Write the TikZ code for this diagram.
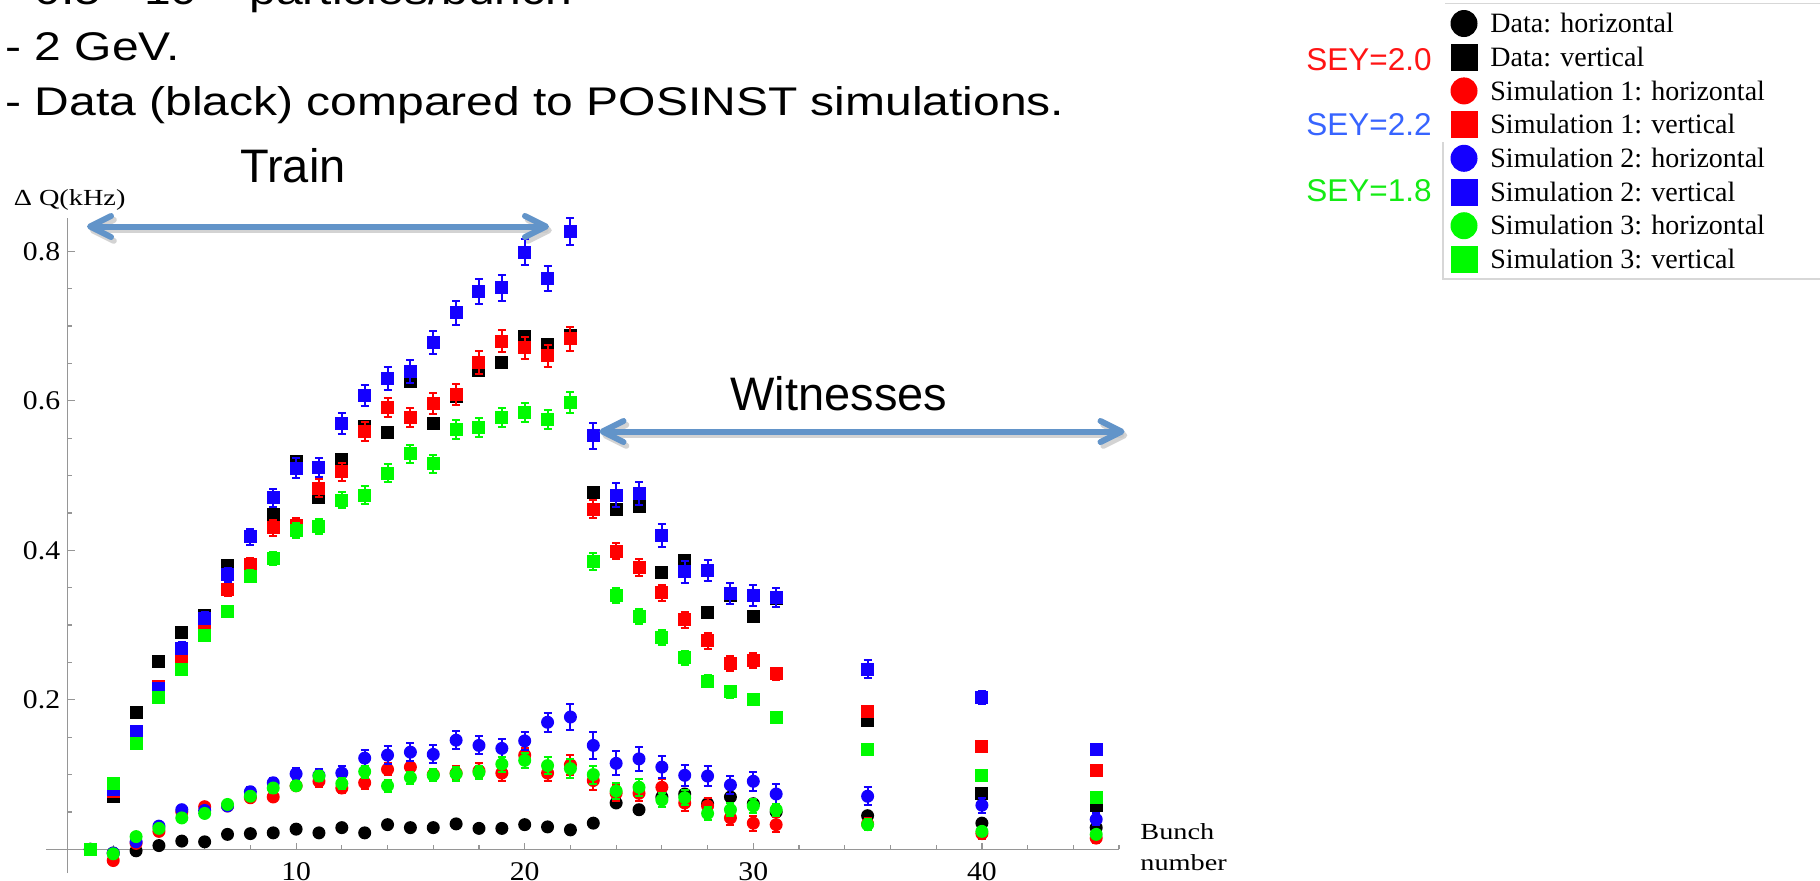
\documentclass[tikz,border=0pt]{standalone}
\usepackage{fontspec}
\usepackage{graphicx}
\setmainfont{Liberation Serif}
\newfontfamily\arial{Liberation Sans}
\usetikzlibrary{arrows.meta}

\definecolor{dred}{RGB}{255,0,0}
\definecolor{dblue}{RGB}{20,0,255}
\definecolor{dgreen}{RGB}{0,250,0}
\definecolor{seyred}{RGB}{255,20,20}
\definecolor{seyblue}{RGB}{55,100,255}
\definecolor{seygreen}{RGB}{20,235,20}
\definecolor{arrowblue}{RGB}{98,148,201}
\definecolor{shadowgray}{RGB}{200,200,200}
\definecolor{axisgray}{RGB}{150,150,150}
\definecolor{framegray}{RGB}{215,215,215}

% one data series: colour, c = circles / s = squares, list of n/value/error
\newcommand\plotseries[3]{%
  \foreach \n/\v/\e in {#3}{%
    \ifdim \e pt>0pt
      \draw[#1, line width=1pt] (\n,{\v-\e}) -- (\n,{\v+\e});
      \draw[#1, line width=1pt] (\n,{\v+\e}) ++(-2pt,0pt) -- ++(4pt,0pt);
      \draw[#1, line width=1pt] (\n,{\v-\e}) ++(-2pt,0pt) -- ++(4pt,0pt);
    \fi
    \if#2c\fill[#1] (\n,\v) circle[radius=3.25pt];
    \else\fill[#1] (\n,\v) ++(-3.25pt,-3.25pt) rectangle ++(6.5pt,6.5pt);\fi
  }}

\tikzset{
  heading/.style={anchor=base west, inner sep=0pt, font=\arial\fontsize{20pt}{24pt}\selectfont},
  bigtag/.style={anchor=base, inner sep=0pt, font=\arial\fontsize{23.5pt}{28pt}\selectfont},
  seytag/.style={anchor=base west, inner sep=0pt, font=\arial\fontsize{15.75pt}{18pt}\selectfont},
  legtext/.style={anchor=base west, inner sep=0pt, font=\fontsize{14pt}{16pt}\selectfont},
  axtext/.style={inner sep=0pt, font=\fontsize{11.5pt}{13pt}\selectfont},
  ticktext/.style={inner sep=0pt, font=\fontsize{13.5pt}{15pt}\selectfont},
  span/.style={arrowblue, line width=3pt, line cap=round,
    {Straight Barb[length=10.5pt,width=10.5pt,round]}-{Straight Barb[length=10.5pt,width=10.5pt,round]}},
  spanshadow/.style={span, shadowgray, opacity=0.8},
}

\begin{document}
\begin{tikzpicture}[x=0.5pt,y=-0.5pt]
\useasboundingbox (0,0) rectangle (1820,880);

% heading text (the first line runs off the top edge)
\node[heading] (line1) at (5,4.5) {\scalebox{1.2}[1]{- 0.5 · 10\textsuperscript{10} particles/bunch}};
\node[heading] (line2) at (5,60) {\scalebox{1.2}[1]{- 2 GeV.}};
\node[heading] (line3) at (5,115.5) {\scalebox{1.2}[1]{- Data (black) compared to POSINST simulations.}};

% legend frame
\draw[framegray, line width=0.6pt] (1445,3.5) -- (1820,3.5);
\draw[framegray, line width=0.6pt] (1443,142) -- (1443,279) -- (1820,279);

% legend entries
\foreach \i/\c/\s/\t in {0/black/c/{Data: horizontal}, 1/black/s/{Data: vertical},
    2/dred/c/{Simulation 1: horizontal}, 3/dred/s/{Simulation 1: vertical},
    4/dblue/c/{Simulation 2: horizontal}, 5/dblue/s/{Simulation 2: vertical},
    6/dgreen/c/{Simulation 3: horizontal}, 7/dgreen/s/{Simulation 3: vertical}}{
  \pgfmathsetmacro\yy{23.5+33.7*\i}
  \if\s c\fill[\c] (1464,\yy) circle[radius=6.75pt];
  \else\fill[\c] (1464,\yy) ++(-6.75pt,-6.75pt) rectangle ++(13.5pt,13.5pt);\fi
  \node[legtext] (leg\i) at (1490,\yy+9.2) {\t};
}

% SEY labels
\node[seytag, text=seyred] (sey1) at (1306,70.7) {SEY=2.0};
\node[seytag, text=seyblue] (sey2) at (1306,135) {SEY=2.2};
\node[seytag, text=seygreen] (sey3) at (1306,201.5) {SEY=1.8};

% axis titles
\node[axtext, anchor=base west] (ylab) at (13.4,205) {\scalebox{1.23}[1]{Δ Q(kHz)}};
\node[axtext, anchor=base west] (xlab1) at (1140,839.3) {\scalebox{1.23}[1]{Bunch}};
\node[axtext, anchor=base west] (xlab2) at (1140,870.7) {\scalebox{1.23}[1]{number}};

% train / witness spans
\node[bigtag] (train) at (293,182) {Train};
\node[bigtag] (witn) at (839,410) {Witnesses};
\coordinate (trainL) at (87,226.5);
\coordinate (trainR) at (549,226.5);
\coordinate (witL) at (599.5,431.5);
\coordinate (witR) at (1124.5,431.5);
\draw[spanshadow, transform canvas={shift={(1.4pt,-1.9pt)}}] (trainL) -- (trainR);
\draw[spanshadow, transform canvas={shift={(1.4pt,-1.9pt)}}] (witL) -- (witR);

% the plot: n along x, Delta Q along y
\begin{scope}[shift={(67.5,849.3)}, x=11.43pt, y=373.75pt]
  \draw[axisgray, line width=0.7pt] (-0.94,0) -- (46,0);
  \draw[axisgray, line width=0.7pt] (0,-0.032) -- (0,0.845);
  \foreach \k in {1,...,16}{\draw[axisgray, line width=0.6pt] (0,\k*0.05) -- ++(2.25pt,0pt);}
  \foreach \k in {4,8,12,16}{\draw[axisgray, line width=0.6pt] (0,\k*0.05) -- ++(3.75pt,0pt);}
  \foreach \k in {1,...,23}{\draw[axisgray, line width=0.6pt] (2*\k,0) -- ++(0pt,2.15pt);}
  \foreach \k in {10,20,30,40}{\draw[axisgray, line width=0.6pt] (\k,0) -- ++(0pt,3.35pt);}
  \foreach \t in {0.2,0.4,0.6,0.8}{\node[ticktext, anchor=east] (yt\t) at ([xshift=-3.5pt]0,\t) {\scalebox{1.1}[1]{\t}};}
  \foreach \t in {10,20,30,40}{\node[ticktext, anchor=north] (xt\t) at ([yshift=-6.3pt]\t,0) {\scalebox{1.1}[1]{\t}};}

  % data, horizontal
  \plotseries{black}{c}{1/0/0, 2/-0.005/0, 3/-0.002/0, 4/0.005/0, 5/0.011/0, 6/0.010/0, 7/0.020/0,
    8/0.021/0, 9/0.022/0, 10/0.027/0, 11/0.022/0, 12/0.029/0, 13/0.022/0, 14/0.033/0, 15/0.029/0,
    16/0.029/0, 17/0.034/0, 18/0.028/0, 19/0.028/0, 20/0.033/0, 21/0.030/0, 22/0.026/0, 23/0.035/0,
    24/0.062/0, 25/0.053/0, 26/0.070/0, 27/0.074/0, 28/0.061/0, 29/0.070/0, 30/0.061/0, 31/0.050/0,
    35/0.045/0, 40/0.035/0, 45/0.029/0}
  % data, vertical
  \plotseries{black}{s}{1/0/0, 2/0.070/0, 3/0.183/0, 4/0.251/0, 5/0.290/0, 6/0.313/0, 7/0.380/0,
    8/0.378/0, 9/0.448/0, 10/0.519/0, 11/0.470/0, 12/0.521/0, 13/0.566/0, 14/0.557/0, 15/0.626/0,
    16/0.569/0, 17/0.606/0, 18/0.640/0, 19/0.651/0, 20/0.686/0, 21/0.675/0, 22/0.688/0, 23/0.478/0,
    24/0.454/0, 25/0.458/0, 26/0.370/0, 27/0.386/0, 28/0.317/0, 29/0.340/0, 30/0.311/0, 31/0.335/0,
    35/0.172/0, 40/0.074/0, 45/0.059/0}
  % simulation 1
  \plotseries{dred}{c}{1/0/0, 2/-0.015/0.003, 3/0.008/0.003, 4/0.024/0.004, 5/0.050/0.004,
    6/0.057/0.005, 7/0.058/0.005, 8/0.069/0.005, 9/0.070/0.006, 10/0.085/0.006, 11/0.091/0.007,
    12/0.082/0.007, 13/0.089/0.008, 14/0.107/0.008, 15/0.110/0.008, 16/0.100/0.008, 17/0.102/0.009,
    18/0.105/0.010, 19/0.102/0.010, 20/0.126/0.010, 21/0.102/0.010, 22/0.113/0.013, 23/0.092/0.012,
    24/0.075/0.011, 25/0.075/0.011, 26/0.083/0.011, 27/0.062/0.011, 28/0.058/0.010, 29/0.042/0.010,
    30/0.035/0.010, 31/0.033/0.010, 35/0.034/0.008, 40/0.021/0.007, 45/0.015/0.006}
  \plotseries{dred}{s}{1/0/0, 2/0.078/0.004, 3/0.150/0.005, 4/0.218/0.006, 5/0.255/0.007,
    6/0.298/0.007, 7/0.347/0.008, 8/0.381/0.009, 9/0.430/0.011, 10/0.433/0.010, 11/0.483/0.012,
    12/0.505/0.012, 13/0.559/0.013, 14/0.591/0.013, 15/0.578/0.013, 16/0.596/0.014, 17/0.609/0.014,
    18/0.651/0.015, 19/0.680/0.015, 20/0.671/0.015, 21/0.660/0.015, 22/0.683/0.016, 23/0.455/0.012,
    24/0.399/0.011, 25/0.377/0.011, 26/0.343/0.011, 27/0.307/0.011, 28/0.279/0.011, 29/0.248/0.010,
    30/0.252/0.010, 31/0.235/0.008, 35/0.185/0.007, 40/0.137/0.006, 45/0.105/0.005}
  % simulation 2
  \plotseries{dblue}{c}{1/0/0, 2/-0.005/0.003, 3/0.010/0.004, 4/0.031/0.005, 5/0.053/0.005,
    6/0.052/0.005, 7/0.058/0.005, 8/0.077/0.006, 9/0.089/0.007, 10/0.101/0.008, 11/0.099/0.008,
    12/0.102/0.009, 13/0.122/0.011, 14/0.126/0.012, 15/0.130/0.012, 16/0.127/0.012, 17/0.146/0.012,
    18/0.139/0.012, 19/0.135/0.012, 20/0.145/0.012, 21/0.170/0.013, 22/0.177/0.018, 23/0.139/0.018,
    24/0.115/0.016, 25/0.121/0.016, 26/0.110/0.015, 27/0.099/0.014, 28/0.098/0.013, 29/0.086/0.012,
    30/0.091/0.013, 31/0.074/0.013, 35/0.071/0.012, 40/0.059/0.010, 45/0.040/0.008}
  \plotseries{dblue}{s}{1/0/0, 2/0.080/0.005, 3/0.157/0.006, 4/0.215/0.007, 5/0.269/0.008,
    6/0.309/0.008, 7/0.367/0.009, 8/0.418/0.011, 9/0.470/0.012, 10/0.510/0.013, 11/0.511/0.013,
    12/0.570/0.014, 13/0.607/0.014, 14/0.630/0.015, 15/0.639/0.015, 16/0.678/0.016, 17/0.718/0.016,
    18/0.746/0.017, 19/0.751/0.017, 20/0.799/0.017, 21/0.764/0.017, 22/0.827/0.018, 23/0.553/0.017,
    24/0.474/0.016, 25/0.476/0.016, 26/0.420/0.015, 27/0.371/0.015, 28/0.373/0.014, 29/0.342/0.014,
    30/0.339/0.014, 31/0.337/0.013, 35/0.241/0.012, 40/0.203/0.009, 45/0.134/0.007}
  % simulation 3
  \plotseries{dgreen}{c}{1/0/0, 2/-0.006/0.003, 3/0.017/0.003, 4/0.028/0.004, 5/0.042/0.004,
    6/0.048/0.004, 7/0.060/0.005, 8/0.071/0.005, 9/0.082/0.006, 10/0.085/0.006, 11/0.098/0.007,
    12/0.088/0.007, 13/0.104/0.008, 14/0.085/0.008, 15/0.096/0.008, 16/0.099/0.008, 17/0.101/0.009,
    18/0.103/0.009, 19/0.114/0.010, 20/0.119/0.010, 21/0.112/0.011, 22/0.108/0.013, 23/0.100/0.012,
    24/0.078/0.011, 25/0.083/0.011, 26/0.066/0.010, 27/0.069/0.010, 28/0.048/0.009, 29/0.053/0.009,
    30/0.058/0.009, 31/0.053/0.008, 35/0.033/0.007, 40/0.024/0.006, 45/0.020/0.005}
  \plotseries{dgreen}{s}{1/0/0, 2/0.088/0.003, 3/0.142/0.004, 4/0.203/0.005, 5/0.241/0.006,
    6/0.286/0.007, 7/0.318/0.007, 8/0.365/0.008, 9/0.389/0.009, 10/0.427/0.010, 11/0.432/0.010,
    12/0.467/0.011, 13/0.474/0.012, 14/0.503/0.012, 15/0.529/0.012, 16/0.516/0.012, 17/0.562/0.013,
    18/0.564/0.013, 19/0.578/0.013, 20/0.584/0.013, 21/0.575/0.013, 22/0.598/0.014, 23/0.385/0.011,
    24/0.340/0.010, 25/0.311/0.010, 26/0.283/0.010, 27/0.256/0.009, 28/0.225/0.008, 29/0.211/0.008,
    30/0.200/0.007, 31/0.177/0.006, 35/0.133/0.005, 40/0.099/0.004, 45/0.069/0.003}
\end{scope}

% span arrows on top
\draw[span] (trainL) -- (trainR);
\draw[span] (witL) -- (witR);
\end{tikzpicture}
\end{document}
